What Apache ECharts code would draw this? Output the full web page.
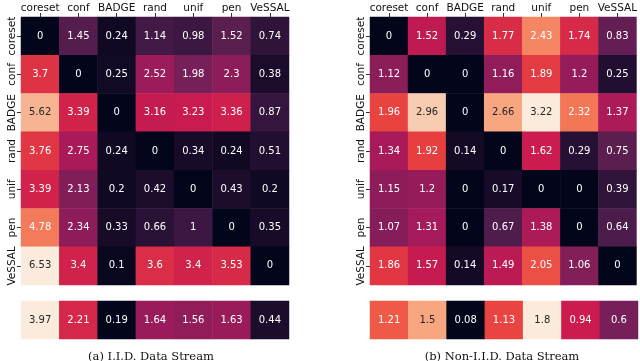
<!DOCTYPE html>
<html>
<head>
<meta charset="utf-8">
<script src="https://cdn.jsdelivr.net/npm/echarts@6/dist/echarts.min.js"></script>
<style>
  html, body { margin: 0; padding: 0; background: #fff; }
  #chart { width: 640px; height: 361px; }
</style>
</head>
<body>
<div id="chart"></div>
<script>
const methods = ['coreset', 'conf', 'BADGE', 'rand', 'unif', 'pen', 'VeSSAL'];

const iidMatrix = [
    [0, 1.45, 0.24, 1.14, 0.98, 1.52, 0.74],
    [3.7, 0, 0.25, 2.52, 1.98, 2.3, 0.38],
    [5.62, 3.39, 0, 3.16, 3.23, 3.36, 0.87],
    [3.76, 2.75, 0.24, 0, 0.34, 0.24, 0.51],
    [3.39, 2.13, 0.2, 0.42, 0, 0.43, 0.2],
    [4.78, 2.34, 0.33, 0.66, 1, 0, 0.35],
    [6.53, 3.4, 0.1, 3.6, 3.4, 3.53, 0]
];
const iidMean = [3.97, 2.21, 0.19, 1.64, 1.56, 1.63, 0.44];

const nonIidMatrix = [
    [0, 1.52, 0.29, 1.77, 2.43, 1.74, 0.83],
    [1.12, 0, 0, 1.16, 1.89, 1.2, 0.25],
    [1.96, 2.96, 0, 2.66, 3.22, 2.32, 1.37],
    [1.34, 1.92, 0.14, 0, 1.62, 0.29, 0.75],
    [1.15, 1.2, 0, 0.17, 0, 0, 0.39],
    [1.07, 1.31, 0, 0.67, 1.38, 0, 0.64],
    [1.86, 1.57, 0.14, 1.49, 2.05, 1.06, 0]
];
const nonIidMean = [1.21, 1.5, 0.08, 1.13, 1.8, 0.94, 0.6];

const captions = ['(a) I.I.D. Data Stream', '(b) Non-I.I.D. Data Stream'];

// seaborn "rocket"
const rocket = ['#03051A', '#2A1136', '#4C1D4B', '#761F58', '#A11A5B', '#CB1B4F',
                '#E83F3F', '#F26C4F', '#F69C73', '#F8C4A6', '#FAEBDD'];

const FONT = 'DejaVu Sans';

function toCells(rows, lo, hi) {
    const cells = [];
    rows.forEach((row, r) => {
        row.forEach((v, c) => {
            const t = (v - lo) / (hi - lo);
            cells.push({
                value: [c, r, v],
                label: { color: t > 0.8 ? '#262626' : '#ffffff' }
            });
        });
    });
    return cells;
}

const grids = [];
const xAxes = [];
const yAxes = [];
const series = [];
const visualMaps = [];

function addHeatmap(rows, left, top, height, withLabels) {
    const flat = rows.flat();
    const lo = Math.min(...flat);
    const hi = Math.max(...flat);
    const idx = grids.length;
    grids.push({ left: left, top: top, width: 268, height: height });
    xAxes.push({
        type: 'category', gridIndex: idx, data: methods, position: 'top',
        axisLine: { show: false },
        axisTick: { show: withLabels, length: 4, alignWithLabel: true, lineStyle: { color: '#333' } },
        axisLabel: { show: withLabels, margin: 3, fontFamily: FONT, fontSize: 10.5, color: '#111', interval: 0 },
        splitLine: { show: false }
    });
    yAxes.push({
        type: 'category', gridIndex: idx, inverse: true,
        data: withLabels ? methods : [''],
        axisLine: { show: false },
        axisTick: { show: withLabels, length: 4, alignWithLabel: true, lineStyle: { color: '#333' } },
        axisLabel: { show: withLabels, rotate: 90, margin: 3, fontFamily: FONT, fontSize: 10.5, color: '#111', interval: 0 },
        splitLine: { show: false }
    });
    series.push({
        type: 'heatmap', xAxisIndex: idx, yAxisIndex: idx,
        data: toCells(rows, lo, hi),
        itemStyle: { borderWidth: 0 },
        label: {
            show: true, fontFamily: FONT, fontSize: 10,
            formatter: p => String(p.value[2])
        },
        emphasis: { disabled: true }
    });
    visualMaps.push({
        show: false, seriesIndex: idx, dimension: 2,
        min: lo, max: hi,
        inRange: { color: rocket }
    });
}

addHeatmap(iidMatrix, 21, 17, 268, true);
addHeatmap([iidMean], 21, 301, 38, false);
addHeatmap(nonIidMatrix, 370, 17, 268, true);
addHeatmap([nonIidMean], 370, 301, 38, false);

const captionStyle = { fontFamily: 'DejaVu Serif', fontSize: 11.5, fontWeight: 'normal', color: '#111' };

const chart = echarts.init(document.getElementById('chart'));
chart.setOption({
    animation: false,
    backgroundColor: '#ffffff',
    title: [
        { text: captions[0], left: 146, top: 346, textAlign: 'center', textStyle: captionStyle },
        { text: captions[1], left: 497, top: 346, textAlign: 'center', textStyle: captionStyle }
    ],
    grid: grids,
    xAxis: xAxes,
    yAxis: yAxes,
    visualMap: visualMaps,
    series: series
});
</script>
</body>
</html>
